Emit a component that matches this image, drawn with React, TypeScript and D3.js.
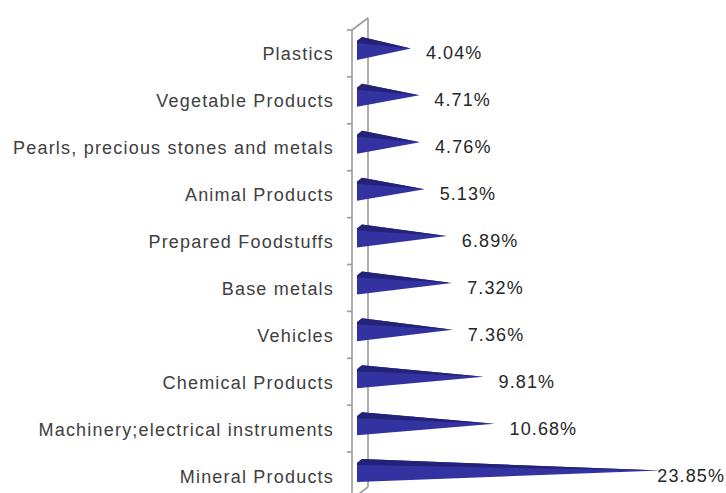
import React, { useEffect, useRef } from "react";
import * as d3 from "d3";

const categories = [
  "Plastics",
  "Vegetable Products",
  "Pearls, precious stones and metals",
  "Animal Products",
  "Prepared Foodstuffs",
  "Base metals ",
  "Vehicles",
  "Chemical Products",
  "Machinery;electrical instruments",
  "Mineral Products",
];
const values = [4.04, 4.71, 4.76, 5.13, 6.89, 7.32, 7.36, 9.81, 10.68, 23.85];
const valueLabels = ["4.04%", "4.71%", "4.76%", "5.13%", "6.89%", "7.32%", "7.36%", "9.81%", "10.68%", "23.85%"];

const W = 726;
const H = 493;

export default function App() {
  const ref = useRef<SVGSVGElement>(null);

  useEffect(() => {
    const svg = d3.select(ref.current);
    svg.selectAll("*").remove();

    const frontX = 352;
    const depthX = 16;
    const depthY = 12;
    const top = 30;
    const bottom = 499;

    const y = d3.scaleBand<string>().domain(categories).range([top, bottom]).padding(0);
    const x = d3.scaleLinear().domain([0, 24]).range([frontX + depthX / 2, frontX + depthX / 2 + 24 * 12.6]);

    const axisColor = "#9a9a9a";
    const g = svg.append("g");

    // wall lines
    g.append("line").attr("x1", frontX).attr("x2", frontX).attr("y1", top).attr("y2", bottom)
      .attr("stroke", axisColor).attr("stroke-width", 1.6);
    g.append("line").attr("x1", frontX + depthX).attr("x2", frontX + depthX).attr("y1", top - depthY).attr("y2", bottom - depthY)
      .attr("stroke", axisColor).attr("stroke-width", 1.6);
    g.append("line").attr("x1", frontX).attr("x2", frontX + depthX).attr("y1", top).attr("y2", top - depthY)
      .attr("stroke", axisColor).attr("stroke-width", 1.6);
    g.append("line").attr("x1", frontX).attr("x2", frontX + depthX).attr("y1", bottom).attr("y2", bottom - depthY)
      .attr("stroke", axisColor).attr("stroke-width", 1.6);

    // ticks
    const tickYs = categories.map((c) => y(c) as number).concat([bottom]);
    g.selectAll("line.tick").data(tickYs).enter().append("line")
      .attr("x1", frontX - 5).attr("x2", frontX).attr("y1", (d) => d).attr("y2", (d) => d)
      .attr("stroke", axisColor).attr("stroke-width", 1.6);

    const bw = y.bandwidth();
    const r = 11.5;
    const cx = x(0);
    const lx = cx - 3;

    // cones
    categories.forEach((c, i) => {
      const bc = (y(c) as number) + bw / 2;
      const cy = bc - 5;
      const tipX = x(values[i]);
      const body = `M${cx + 2},${cy - r} L${tipX},${cy} L${lx},${cy + r} L${lx},${cy - r + 4} Z`;
      g.append("path").attr("d", body).attr("fill", "#3232a0");
      const darkTop = `M${lx},${cy - r + 4} L${cx + 2},${cy - r} L${tipX},${cy} L${lx},${cy - r + 6} Z`;
      g.append("path").attr("d", darkTop).attr("fill", "#222278");
    });

    // category labels
    g.selectAll("text.cat").data(categories).enter().append("text")
      .attr("x", 334)
      .attr("y", (d) => (y(d) as number) + bw / 2 + 1)
      .attr("text-anchor", "end")
      .attr("dominant-baseline", "central")
      .attr("font-family", "'Liberation Sans', Arial, sans-serif")
      .attr("font-size", 18)
      .attr("letter-spacing", 1.2)
      .attr("fill", "#404040")
      .text((d) => d);

    // value labels
    categories.forEach((c, i) => {
      const bc = (y(c) as number) + bw / 2;
      const t = g.append("text")
        .attr("x", x(values[i]) + 15)
        .attr("y", bc)
        .attr("dominant-baseline", "central")
        .attr("font-family", "'Liberation Sans', Arial, sans-serif")
        .attr("font-size", 18)
        .attr("letter-spacing", 1.1)
        .attr("fill", "#262626")
        .text(valueLabels[i]);
      const node = t.node() as SVGTextElement;
      const w = node.getComputedTextLength();
      if (x(values[i]) + 15 + w > W - 1) {
        t.attr("x", W - 1 - w);
      }
    });
  }, []);

  return (
    <svg ref={ref} width={W} height={H} style={{ position: "absolute", left: 0, top: 0, background: "#fff" }} />
  );
}
